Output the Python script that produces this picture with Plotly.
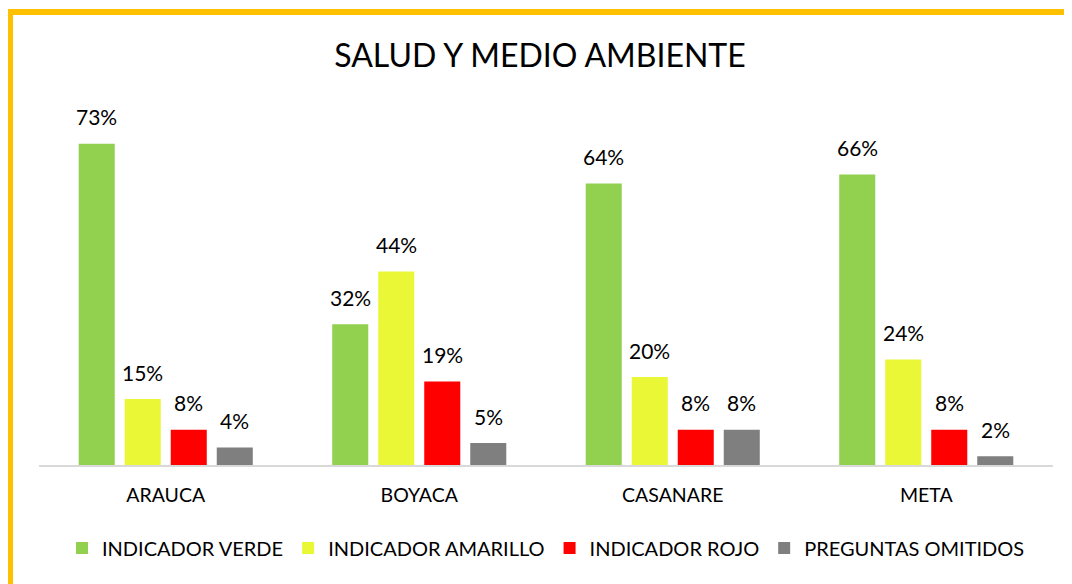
import plotly.graph_objects as go

categories = ["ARAUCA", "BOYACA", "CASANARE", "META"]
series_names = ["INDICADOR VERDE", "INDICADOR AMARILLO", "INDICADOR ROJO", "PREGUNTAS OMITIDOS"]
verde = [73, 32, 64, 66]
amarillo = [15, 44, 20, 24]
rojo = [8, 19, 8, 8]
omitidos = [4, 5, 8, 2]
colors = ["#92D050", "#E9F736", "#FF0000", "#7F7F7F"]

# page has an 8px body margin; figure sized to fit the window
OFF = 8
W, H = 1072 - OFF, 584 - OFF
ML, MR, MT, MB = 31, 19, 105, 119
FONT = "Lato"

fig = go.Figure()
all_series = [verde, amarillo, rojo, omitidos]
for name, vals, col in zip(series_names, all_series, colors):
    fig.add_trace(go.Bar(
        x=categories, y=vals, name=name, marker=dict(color=col, line=dict(width=0)),
    ))

# data labels
slot_px = (W - ML - MR) / 4 * (1 - 0.274) / 4
for i, vals in enumerate(all_series):
    for c, v in zip(categories, vals):
        fig.add_annotation(
            x=c, y=v, text=f"{v}%", showarrow=False,
            xshift=(i - 1.5) * slot_px, yshift=27, yanchor="middle",
            font=dict(family=FONT, size=21, color="#000000"),
        )

plot_w = W - ML - MR
plot_h = H - MT - MB
def px_x(p):
    return (p - ML) / plot_w
def px_y(p):
    return (H - MB - p) / plot_h

border = "#FFC000"
fig.add_shape(type="line", xref="paper", yref="paper",
              x0=px_x(2), x1=px_x(2), y0=px_y(1), y1=px_y(H + 5),
              line=dict(color=border, width=6), layer="above")
fig.add_shape(type="line", xref="paper", yref="paper",
              x0=px_x(-1), x1=px_x(W + 5), y0=px_y(4), y1=px_y(4),
              line=dict(color=border, width=6), layer="above")

fig.update_layout(
    width=W, height=H,
    margin=dict(l=ML, r=MR, t=MT, b=MB),
    paper_bgcolor="white", plot_bgcolor="white",
    barmode="group", bargap=0.274, bargroupgap=0.217,
    title=dict(text="SALUD Y MEDIO AMBIENTE", x=0.5, xanchor="center",
               y=1 - 48 / H, yanchor="middle",
               font=dict(family=FONT, size=32, color="#000000")),
    font=dict(family=FONT, color="#000000"),
    showlegend=True,
    legend=dict(orientation="h", x=0.5, xanchor="center", y=px_y(540), yanchor="middle",
                font=dict(family=FONT, size=20, color="#000000"),
                itemwidth=30, tracegroupgap=0),
    xaxis=dict(showline=True, linecolor="#D9D9D9", linewidth=2, ticks="",
               tickfont=dict(family=FONT, size=19.5, color="#000000"),
               ticklabelstandoff=12, showgrid=False, zeroline=False),
    yaxis=dict(range=[0, 80], visible=False, showgrid=False, zeroline=False),
)

fig.write_html("out.html")
